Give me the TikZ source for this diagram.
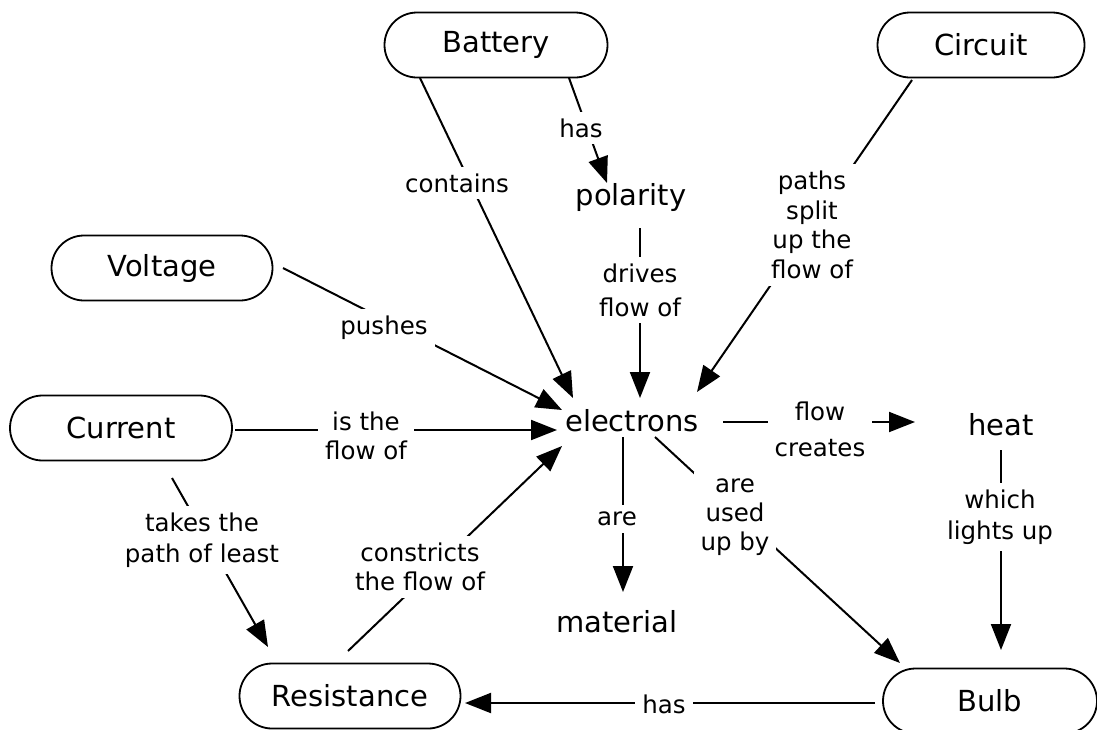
\documentclass[tikz,border=0pt]{standalone}
\usepackage{fontspec}
\setmainfont{DejaVu Sans}
\usetikzlibrary{calc,arrows.meta,shapes.misc}
\pgfdeclarelayer{bg}
\pgfsetlayers{bg,main}
\begin{document}
\begin{tikzpicture}[x=1pt,y=-1pt,
  concept/.style={rounded rectangle, draw, line width=1.8pt, minimum height=65pt,
     minimum width=221pt, inner sep=0pt, font=\fontsize{29}{34}\selectfont},
  word/.style={inner sep=0pt, font=\fontsize{29}{34}\selectfont},
  lab/.style={fill=white, inner sep=7pt, align=center, font=\fontsize{24.5}{30}\selectfont},
  conn/.style={line width=2pt},
  arr/.style={conn, -{Triangle[length=26pt,width=20pt]}}]
\useasboundingbox (0,0) rectangle (1097,729);
% concepts
\node[concept, minimum width=223pt] (battery) at (496,45) {Battery};
\node[concept, minimum width=207pt] (circuit) at (981,45) {Circuit};
\node[concept] (voltage) at (162,268) {Voltage};
\node[concept, minimum width=222pt] (current) at (121,428) {Current};
\node[concept] (resistance) at (350,696) {Resistance};
\node[concept, minimum width=214pt] (bulb) at (990,701) {Bulb};
\node[word] (polarity) at (631,197) {polarity};
\node[word] (electrons) at (632,421) {electrons};
\node[word] (heat) at (1001,425) {heat};
\node[word] (material) at (617,622) {material};
% linking phrases
\node[lab] (l1) at (457,183) {contains};
\node[lab] (l2) at (581,128) {has};
\node[lab, font=\fontsize{24.5}{34}\selectfont] (l3) at (640,290) {drives\\flow of};
\node[lab, font=\fontsize{24.5}{29.5}\selectfont] (l4) at (812,225) {paths\\split\\up the\\flow of};
\node[lab] (l5) at (384,328) {pushes};
\node[lab, font=\fontsize{24.5}{28.5}\selectfont] (l6) at (366,436) {is the\\flow of};
\node[lab, font=\fontsize{24.5}{31}\selectfont] (l7) at (202,540) {takes the\\path of least};
\node[lab, font=\fontsize{24.5}{29}\selectfont] (l8) at (420,567) {constricts\\the flow of};
\node[lab] (l9) at (617,519) {are};
\node[lab, font=\fontsize{24.5}{29}\selectfont] (l10) at (735,517) {are\\used\\up by};
\node[lab, font=\fontsize{24.5}{36}\selectfont] (l11) at (820,429) {flow\\creates};
\node[lab, font=\fontsize{24.5}{31}\selectfont] (l12) at (1000,517) {which\\lights up};
\node[lab] (l13) at (664,704) {has};
% connectors
\begin{pgfonlayer}{bg}
\draw[arr] ($(battery)+(-76,33)$) -- ($(electrons)+(-59,-23)$);
\draw[arr] ($(battery)+(73,33)$) -- ($(polarity)+(-24,-14)$);
\draw[arr] ($(polarity)+(9,31)$) -- ($(electrons)+(8,-23)$);
\draw[arr] ($(circuit)+(-69,35)$) -- ($(electrons)+(65,-29)$);
\draw[arr] ($(voltage)+(121,0)$) -- ($(electrons)+(-70,-11)$);
\draw[arr] ($(current)+(114,2)$) -- ($(electrons)+(-75,9)$);
\draw[arr] ($(current)+(51,50)$) -- ($(resistance)+(-82,-49)$);
\draw[arr] ($(resistance)+(-2,-45)$) -- ($(electrons)+(-70,25)$);
\draw[arr] ($(electrons)+(-9,16)$) -- ($(material)+(6,-30)$);
\draw[arr] ($(electrons)+(23,16)$) -- ($(bulb)+(-90,-38)$);
\draw[arr] ($(electrons)+(91,1)$) -- ($(heat)+(-86,-3)$);
\draw[arr] ($(heat)+(0,25)$) -- ($(bulb)+(11,-51)$);
\draw[arr] ($(bulb)+(-115,2)$) -- ($(resistance)+(115,7)$);
\end{pgfonlayer}
\end{tikzpicture}
\end{document}
